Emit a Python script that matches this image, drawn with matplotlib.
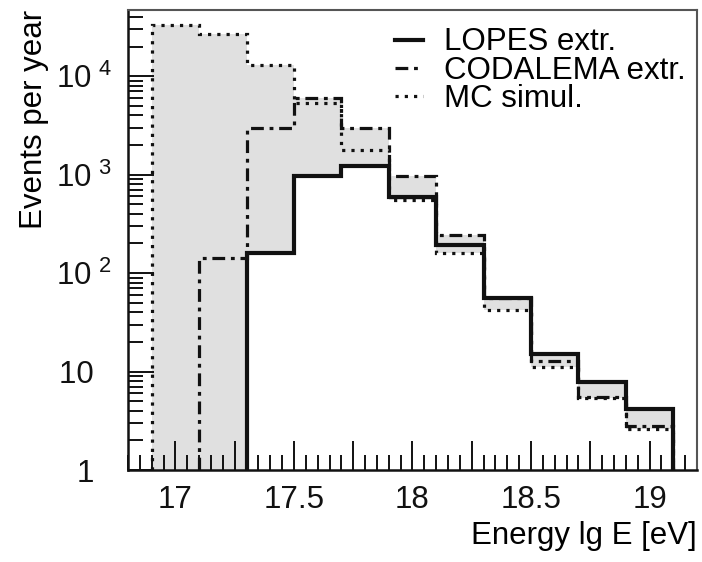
import matplotlib

matplotlib.use("Agg")
import matplotlib.pyplot as plt
import numpy as np
from matplotlib.ticker import FixedLocator, FixedFormatter, MultipleLocator, FuncFormatter

plt.rcParams["font.family"] = ["Liberation Sans", "DejaVu Sans"]
plt.rcParams["mathtext.fontset"] = "custom"
plt.rcParams["mathtext.rm"] = "Liberation Sans"

# bin edges in lg E [eV], 0.2 wide
edges = [16.9, 17.1, 17.3, 17.5, 17.7, 17.9, 18.1, 18.3, 18.5, 18.7, 18.9, 19.1]

# events per year per bin (0 = no events)
lopes = [0, 0, 160, 960, 1230, 590, 193, 56, 15, 7.8, 4.2]
codalema = [0, 142, 2960, 6000, 3000, 960, 243, 56, 12.8, 5.5, 2.8]
mc = [33000, 27000, 13000, 5300, 1780, 550, 160, 42, 11, 5.4, 2.6]

labels = ["LOPES extr.", "CODALEMA extr.", "MC simul."]

YMIN, YMAX = 1, 4.7e4
ytick_vals = [1, 10, 100, 1000, 10000]
ytick_labels = ["1  ", "10  ", r"$\mathregular{10^{\ 2}}$",
                r"$\mathregular{10^{\ 3}}$", r"$\mathregular{10^{\ 4}}$"]

FS = 22.5

fig = plt.figure(figsize=(7.02, 5.62), dpi=100)
ax = fig.add_axes([0.1823, 0.1637, 0.8106, 0.8185])

e = np.array(edges)
all_vals = np.vstack([lopes, codalema, mc])
lo = all_vals.min(axis=0)
hi = all_vals.max(axis=0)
lo = np.where(lo > 0, lo, YMIN)
ax.fill_between(e, np.append(lo, lo[-1]), np.append(hi, hi[-1]), step="post",
                color="#e0e0e0", lw=0, zorder=1)

ax.stairs(mc, edges, baseline=YMIN, color="#111111", lw=2.3,
          linestyle=(0, (1, 1.9)), zorder=3, label=labels[2])
ax.stairs(codalema[1:], edges[1:], baseline=YMIN, color="#111111", lw=2.3,
          linestyle=(0, (4, 1.8, 1.2, 1.8)), zorder=4, label=labels[1])
ax.stairs(lopes[2:], edges[2:], baseline=YMIN, color="#111111", lw=3.0,
          zorder=5, label=labels[0])

ax.set_yscale("log")
ax.set_xlim(16.8, 19.2)
ax.set_ylim(YMIN, YMAX)

ax.yaxis.set_major_locator(FixedLocator(ytick_vals))
ax.yaxis.set_major_formatter(FixedFormatter(ytick_labels))
ax.xaxis.set_major_locator(MultipleLocator(0.25))
ax.xaxis.set_minor_locator(MultipleLocator(0.05))
ax.xaxis.set_major_formatter(FuncFormatter(
    lambda v, p: (f"{v:g}" if abs(v * 2 - round(v * 2)) < 1e-6 else "")))

ax.tick_params(axis="both", which="both", direction="in", colors="#111111",
               labelsize=FS, width=1.4)
ax.tick_params(axis="y", which="major", length=19, pad=12)
ax.tick_params(axis="y", which="minor", length=11)
ax.tick_params(axis="x", which="major", length=21, pad=11)
ax.tick_params(axis="x", which="minor", length=11)
ax.tick_params(axis="x", which="both", top=False)
ax.tick_params(axis="y", which="both", right=False)

for s in ["left", "bottom"]:
    ax.spines[s].set_linewidth(1.8)
    ax.spines[s].set_color("#111111")
for s in ["top", "right"]:
    ax.spines[s].set_linewidth(1.5)
    ax.spines[s].set_color("#555555")

ax.set_xlabel("Energy lg E [eV]", fontsize=FS, loc="right", labelpad=4)
ax.set_ylabel("Events per year", fontsize=FS, loc="top", labelpad=5)

handles, hlabels = ax.get_legend_handles_labels()
order = [hlabels.index(l) for l in labels]
leg = ax.legend([handles[i] for i in order], [hlabels[i] for i in order],
                loc="upper left", bbox_to_anchor=(0.47, 0.962), frameon=False,
                fontsize=FS, handlelength=0.87, handletextpad=0.7,
                labelspacing=-0.05, borderpad=0, borderaxespad=0)

fig.savefig("out.png", dpi=100)
